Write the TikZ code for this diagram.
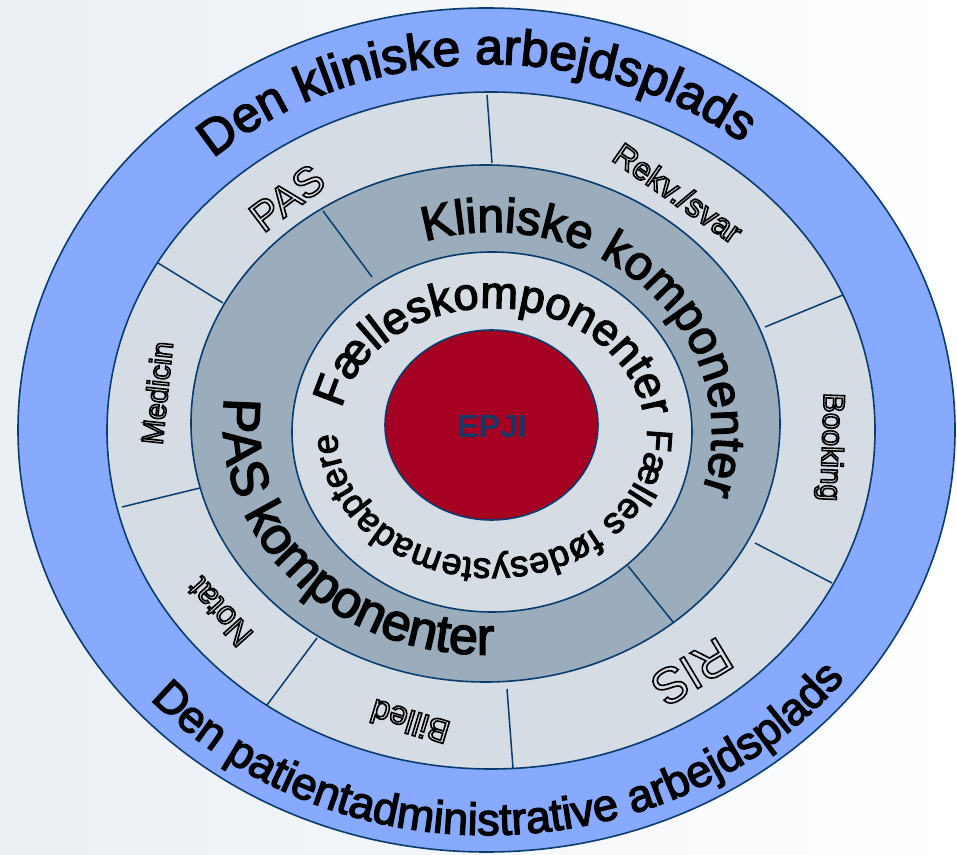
\documentclass[tikz,border=0pt]{standalone}
\usepackage{fontspec}
\setmainfont{Liberation Sans}
\newfontfamily\heavyfont[FakeBold=3]{Liberation Sans}
\usetikzlibrary{decorations.text}
\definecolor{bgblue}{RGB}{135,170,255}
\definecolor{ringlight}{RGB}{213,220,228}
\definecolor{ringdark}{RGB}{155,173,189}
\definecolor{core}{RGB}{165,0,33}
\definecolor{navy}{RGB}{10,60,110}
\definecolor{epjitext}{RGB}{25,55,100}
\definecolor{bgleft}{RGB}{234,239,244}
\newcommand\hollowtxt[1]{\textcolor{ringlight}{\special{pdf:literal direct 2 Tr 1.6 w 0 0 0 RG}#1\special{pdf:literal direct 0 Tr}}}
\begin{document}
\begin{tikzpicture}[x=1pt,y=1pt,
  ring/.style={draw=navy, line width=1.6pt},
  divider/.style={draw=navy, line width=1.5pt},
  curvetext/.style={decorate, decoration={text along path, text align=center, text color=black}},
  hollow/.style={inner sep=0pt, font=\fontsize{#1}{#1}\selectfont},
  ]
\useasboundingbox (0,0) rectangle (957,854);
\shade[left color=bgleft, right color=white] (0,0) rectangle (957,854);

% rings
\filldraw[ring, fill=bgblue] (486.5,424) ellipse[x radius=468.5pt, y radius=422pt];
\filldraw[ring, fill=ringlight] (491,423.5) ellipse[x radius=384pt, y radius=338.5pt];
\filldraw[ring, fill=ringdark] (485.5,430.5) ellipse[x radius=294.5pt, y radius=258.5pt];
\filldraw[ring, fill=ringlight] (492,422) ellipse[x radius=200pt, y radius=180pt];
\filldraw[ring, fill=core] (491.5,429) ellipse[x radius=106.5pt, y radius=95pt];

% dividers light ring
\draw[divider] (487,759) -- (492,691);
\draw[divider] (158,591) -- (223,551);
\draw[divider] (122,347) -- (200,366);
\draw[divider] (267,149) -- (317,216);
\draw[divider] (507,165) -- (513,86);
\draw[divider] (755,311) -- (832,271);
\draw[divider] (765,527) -- (843,559);
% dividers dark ring
\draw[divider] (323,643) -- (372,577);
\draw[divider] (628,288) -- (673,232);

% curved texts
\begin{scope}[shift={(488,424)}]
\path[curvetext, decoration={text={|\heavyfont\fontsize{50pt}{50pt}\selectfont|Den kliniske arbejdsplads}}]
  (180:410pt and 366pt) arc[start angle=180, end angle=4, x radius=410pt, y radius=366pt];
\path[curvetext, decoration={text={|\heavyfont\fontsize{45pt}{45pt}\selectfont|Den patientadministrative arbejdsplads}}]
  (187:452pt and 405pt) arc[start angle=187, end angle=357, x radius=452pt, y radius=405pt];
\end{scope}
\begin{scope}[shift={(492,422)}]
\path[curvetext, decoration={text={|\heavyfont\fontsize{48pt}{48pt}\selectfont|Kliniske komponenter}}]
  (112:220pt and 200pt) arc[start angle=112, end angle=-22, x radius=220pt, y radius=200pt];
\path[curvetext, decoration={text={|\heavyfont\fontsize{45pt}{45pt}\selectfont|Fælleskomponenter}}]
  (178:153pt and 124pt) arc[start angle=178, end angle=-2, x radius=153pt, y radius=124pt];
\path[curvetext, decoration={text={|\heavyfont\fontsize{36pt}{36pt}\selectfont|Fælles fødesystemadaptere}}]
  (4:155pt and 127pt) arc[start angle=4, end angle=-182, x radius=155pt, y radius=127pt];
\end{scope}
\begin{scope}[shift={(485.5,430.5)}]
\path[curvetext, decoration={text={|\heavyfont\fontsize{52pt}{52pt}\selectfont|PAS komponenter}}]
  (160:262pt and 231pt) arc[start angle=160, end angle=284, x radius=262pt, y radius=231pt];
\end{scope}

% centre
\node[font=\bfseries\fontsize{32pt}{32pt}\selectfont, text=epjitext] (epji) at (492,427) {EPJI};

% outlined labels
\node[hollow=42pt, rotate=37] (pas) at (287,656) {\hollowtxt{PAS}};
\node[hollow=32pt, rotate=-35] (rekv) at (678,661) {\hollowtxt{Rekv./svar}};
\node[hollow=30pt, rotate=-92] (booking) at (830,407) {\hollowtxt{Booking}};
\node[hollow=30pt, rotate=84] (medicin) at (157,461) {\hollowtxt{Medicin}};
\node[hollow=33pt, rotate=132] (notat) at (220,242) {\hollowtxt{Notat}};
\node[hollow=33pt, rotate=163] (billed) at (410,132) {\hollowtxt{Billed}};
\node[hollow=50pt, rotate=211] (ris) at (692,182) {\hollowtxt{RIS}};
\end{tikzpicture}
\end{document}
